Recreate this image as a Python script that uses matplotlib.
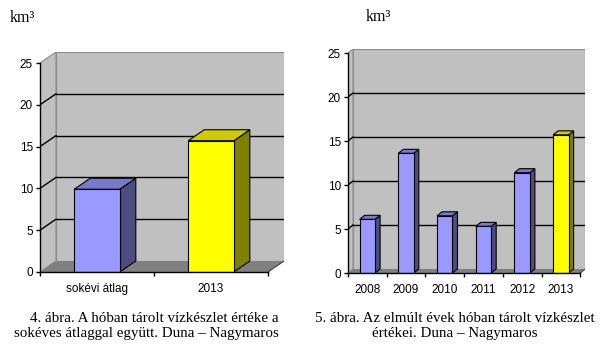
import matplotlib
matplotlib.use("Agg")
import matplotlib.pyplot as plt
from matplotlib.patches import Polygon

# snow water storage, Duna - Nagymaros (km3)
avg_labels = ["sokévi átlag", "2013"]
avg_values = [9.9, 15.7]

year_labels = ["2008", "2009", "2010", "2011", "2012", "2013"]
year_values = [6.1, 13.6, 6.5, 5.3, 11.4, 15.7]

y_ticks = [0, 5, 10, 15, 20, 25]
y_top = 25

WALL = "#c0c0c0"
FLOOR = "#808080"
BLUE = ("#9999ff", "#7878cc", "#4d4d80")      # front, top, side
YELLOW = ("#ffff00", "#cccc00", "#808000")

fig = plt.figure(figsize=(6, 3.5), dpi=100)
W, H = 600.0, 350.0


def chart(x0, y0, cat_px, unit_px, dpx, dpy, labels, values):
    n = len(labels)
    ddx = dpx / cat_px
    ddy = dpy / unit_px
    width = n * cat_px + dpx
    height = (y_top + ddy) * unit_px
    ax = fig.add_axes([x0 / W, 1 - y0 / H, width / W, height / H])
    ax.set_xlim(0, n + ddx)
    ax.set_ylim(0, y_top + ddy)
    ax.patch.set_visible(False)

    # walls and floor
    back = Polygon([(ddx, ddy), (n + ddx, ddy), (n + ddx, y_top + ddy), (ddx, y_top + ddy)],
                   closed=True, fc=WALL, ec="#8c8c8c", lw=0.8, zorder=1)
    side = Polygon([(0, 0), (ddx, ddy), (ddx, y_top + ddy), (0, y_top)],
                   closed=True, fc=WALL, ec="#8c8c8c", lw=0.8, zorder=1)
    floor = Polygon([(0, 0), (n, 0), (n + ddx, ddy), (ddx, ddy)],
                    closed=True, fc=FLOOR, ec="none", zorder=2)
    for p in (back, side, floor):
        ax.add_patch(p)
    for v in y_ticks[1:-1]:
        ax.plot([ddx, n + ddx], [v + ddy, v + ddy], color="black", lw=1.0, zorder=1.5)
        ax.plot([0, ddx], [v, v + ddy], color="black", lw=1.0, zorder=1.5)
    ax.plot([n, n + ddx], [0, ddy], color="#404040", lw=0.8, zorder=2)

    # bars
    bw = 0.4
    for i, (lab, v) in enumerate(zip(labels, values)):
        front, top, sidec = YELLOW if lab == "2013" else BLUE
        xl = i + 0.5 - bw / 2
        xr = i + 0.5 + bw / 2
        ax.add_patch(Polygon([(xr, 0), (xr + ddx, ddy), (xr + ddx, v + ddy), (xr, v)],
                             closed=True, fc=sidec, ec="black", lw=0.8, zorder=3))
        ax.add_patch(Polygon([(xl, v), (xr, v), (xr + ddx, v + ddy), (xl + ddx, v + ddy)],
                             closed=True, fc=top, ec="black", lw=0.8, zorder=3))
        ax.bar(i + 0.5, v, width=bw, color=front, edgecolor="black", lw=0.8, zorder=4)

    # axes
    for s in ("top", "right"):
        ax.spines[s].set_visible(False)
    ax.spines["left"].set_bounds(0, y_top)
    ax.spines["bottom"].set_bounds(0, n)
    for s in ("left", "bottom"):
        ax.spines[s].set_zorder(5)
        ax.spines[s].set_linewidth(1.0)
    ax.set_yticks(y_ticks)
    ax.set_yticklabels([str(t) for t in y_ticks], family="Liberation Sans", fontsize=8.5)
    ax.tick_params(axis="y", direction="out", length=3, width=1, pad=2)
    ax.set_xticks(range(n + 1))
    ax.set_xticklabels([])
    ax.set_xticks([i + 0.5 for i in range(n)], minor=True)
    ax.set_xticklabels(labels, minor=True, family="Liberation Sans", fontsize=8.5)
    ax.tick_params(axis="x", which="major", direction="out", length=3, width=1)
    ax.tick_params(axis="x", which="minor", length=0, pad=8)
    return ax


chart(40, 272, 114, 8.36, 16, 11, avg_labels, avg_values)
chart(348, 273, 38.7, 8.8, 5, 4, year_labels, year_values)

serif = dict(family="Liberation Serif", color="black")
fig.text(10 / W, 1 - 18 / H, "km³", ha="left", va="center", fontsize=11.5, **serif)
fig.text(366 / W, 1 - 17 / H, "km³", ha="left", va="center", fontsize=11.5, **serif)

fig.text(279 / W, 1 - 318 / H, "4. ábra. A hóban tárolt vízkészlet értéke a",
         ha="right", va="center", fontsize=10.8, **serif)
fig.text(279 / W, 1 - 333 / H, "sokéves átlaggal együtt. Duna – Nagymaros",
         ha="right", va="center", fontsize=10.8, **serif)
fig.text(455 / W, 1 - 318 / H, "5. ábra. Az elmúlt évek hóban tárolt vízkészlet",
         ha="center", va="center", fontsize=10.8, **serif)
fig.text(455 / W, 1 - 333 / H, "értékei. Duna – Nagymaros",
         ha="center", va="center", fontsize=10.8, **serif)

fig.savefig("out.png", dpi=100, facecolor="white")
